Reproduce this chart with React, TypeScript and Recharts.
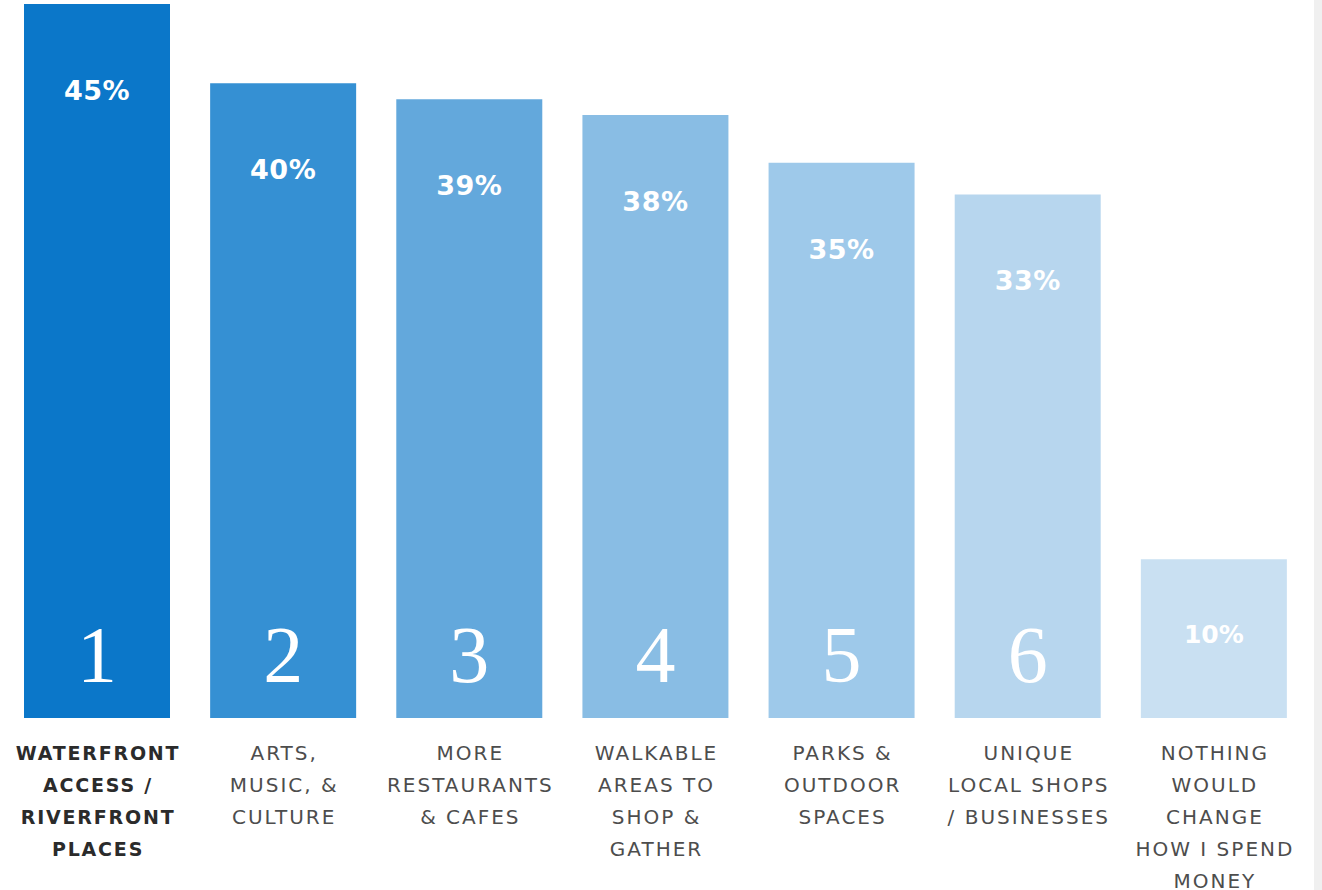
import React from 'react'
import { BarChart, Bar, XAxis, YAxis, Cell, LabelList } from 'recharts'

// survey results, ranked
const ranks = ['1', '2', '3', '4', '5', '6', '']
const values = [45, 40, 39, 38, 35, 33, 10]
const categoryLines = [
  ['WATERFRONT', 'ACCESS /', 'RIVERFRONT', 'PLACES'],
  ['ARTS,', 'MUSIC, &', 'CULTURE'],
  ['MORE', 'RESTAURANTS', '& CAFES'],
  ['WALKABLE', 'AREAS TO', 'SHOP &', 'GATHER'],
  ['PARKS &', 'OUTDOOR', 'SPACES'],
  ['UNIQUE', 'LOCAL SHOPS', '/ BUSINESSES'],
  ['NOTHING', 'WOULD', 'CHANGE', 'HOW I SPEND', 'MONEY'],
]
const colors = ['#0b77c9', '#3590d3', '#63a8dc', '#89bde4', '#9ec9ea', '#b7d6ee', '#c9e0f2']

const data = values.map((v, i) => ({
  name: categoryLines[i].join(' '),
  value: v,
  rank: ranks[i],
  idx: i,
}))

const FONT = '"DejaVu Sans", Inter, sans-serif'

const CategoryTick = (props: any) => {
  const { x, y, payload } = props
  const lines = categoryLines[payload.index] || []
  const bold = payload.index === 0
  return (
    <text
      x={x}
      y={y}
      textAnchor="middle"
      fontFamily={FONT}
      fontSize={bold ? 19 : 20}
      fontWeight={bold ? 700 : 400}
      letterSpacing={bold ? 1.8 : 2}
      fill={bold ? '#2b2b2b' : '#4d4d4d'}
    >
      {lines.map((line, i) => (
        <tspan key={i} x={x + 1} y={y + 34 + i * 32}>
          {line}
        </tspan>
      ))}
    </text>
  )
}

const PercentLabel = (props: any) => {
  const { x, y, width, index } = props
  if (index === values.length - 1) return null
  return (
    <text
      x={x + width / 2}
      y={y + 96}
      textAnchor="middle"
      fontFamily={FONT}
      fontSize={27}
      fontWeight={700}
      letterSpacing={0.5}
      fill="#ffffff"
    >
      {values[index]}%
    </text>
  )
}

const RankLabel = (props: any) => {
  const { x, y, width, height, index } = props
  const cx = x + width / 2
  const bottom = y + height
  if (index === values.length - 1) {
    return (
      <text
        x={cx}
        y={bottom - 75}
        textAnchor="middle"
        fontFamily={FONT}
        fontSize={25}
        fontWeight={700}
        fill="#ffffff"
      >
        {values[index]}%
      </text>
    )
  }
  return (
    <text
      x={cx}
      y={bottom - 36}
      textAnchor="middle"
      fontFamily='"Liberation Serif", "DejaVu Serif", serif'
      fontSize={80}
      fill="#ffffff"
    >
      {ranks[index]}
    </text>
  )
}

export default function App() {
  return (
    <div style={{ position: 'absolute', left: 0, top: 0, width: 1322, height: 890, background: '#ffffff' }}>
      <div style={{ position: 'absolute', left: 1314, top: 0, width: 8, height: 890, background: '#f0f0f0' }} />
      <BarChart
        width={1314}
        height={890}
        data={data}
        margin={{ top: 4, right: 7, left: 4, bottom: 0 }}
        barSize={146}
      >
        <XAxis
          dataKey="name"
          axisLine={false}
          tickLine={false}
          interval={0}
          height={172}
          tick={<CategoryTick />}
        />
        <YAxis hide domain={[0, 45]} />
        <Bar dataKey="value" isAnimationActive={false}>
          {data.map((d, i) => (
            <Cell key={i} fill={colors[i]} />
          ))}
          <LabelList dataKey="value" content={<PercentLabel />} />
          <LabelList dataKey="rank" content={<RankLabel />} />
        </Bar>
      </BarChart>
    </div>
  )
}
